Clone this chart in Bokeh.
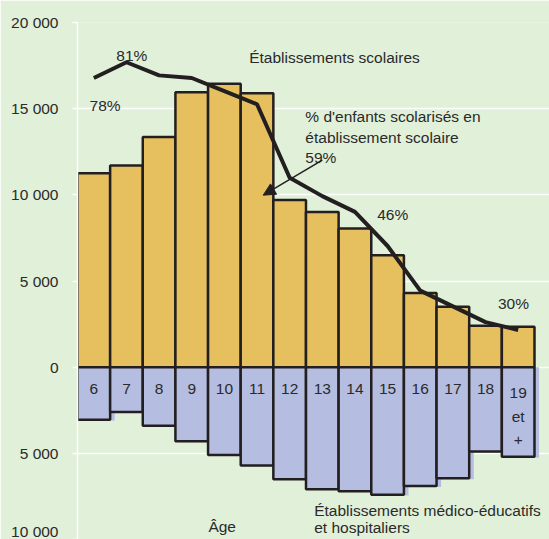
from bokeh.plotting import figure
from bokeh.models import (Range1d, FixedTicker, CustomJSTickFormatter, Label,
                          Arrow, NormalHead, ColumnDataSource)
from bokeh.transform import dodge
from bokeh.core.properties import value
from bokeh.embed import file_html
from bokeh.resources import INLINE

# ---- data ----
ages = [6, 7, 8, 9, 10, 11, 12, 13, 14, 15, 16, 17, 18, 19]
age_labels = ["6", "7", "8", "9", "10", "11", "12", "13", "14", "15", "16", "17", "18", "19\net\n+"]
scolaires = [11250, 11700, 13350, 15950, 16450, 15900, 9700, 9000, 8050, 6500, 4300, 3500, 2400, 2350]
medico = [3050, 2600, 3400, 4300, 5100, 5700, 6500, 7080, 7200, 7400, 6900, 6450, 4900, 5200]
pct_scolarises = [78, 81, 78.5, 78, 75.5, 73, 59, 55.5, 52.5, 46, 37.5, 34.5, 31.5, 30]
y_ticks = [-10000, -5000, 0, 5000, 10000, 15000, 20000]

FONT = "Liberation Sans"
FS = "15.5px"
BG = "#e1f0d9"
GOLD = "#e6c05f"
LAV = "#b5bde0"
INK = "#231f20"
TXT = "#2a2a2a"

src = ColumnDataSource(dict(
    age=ages,
    left=[a - 0.5 for a in ages],
    right=[a + 0.5 for a in ages],
    top=scolaires,
    neg=[-v for v in medico],
    zero=[0] * len(ages),
))

p = figure(width=549, height=539,
           x_range=Range1d(5.5, 19.96), y_range=Range1d(-10000, 20000),
           output_backend="svg", toolbar_location=None,
           min_border_left=77, min_border_top=22, min_border_right=0, min_border_bottom=0)
p.extra_y_ranges = {"pct": Range1d(-9.9, 88.57)}
p.background_fill_color = BG
p.border_fill_color = BG
p.outline_line_color = None

p.xaxis.visible = False
p.xgrid.visible = False
p.ygrid.ticker = FixedTicker(ticks=y_ticks)
p.ygrid.grid_line_color = "white"
p.ygrid.grid_line_width = 1.5

ax = p.yaxis[0]
ax.ticker = FixedTicker(ticks=y_ticks)
ax.formatter = CustomJSTickFormatter(code="""
var s = Math.abs(tick).toFixed(0);
return s.replace(/\\B(?=(\\d{3})+(?!\\d))/g, ' ');
""")
ax.axis_line_color = "white"
ax.axis_line_width = 1.5
ax.major_tick_line_color = "white"
ax.major_tick_line_width = 1.5
ax.major_tick_out = 5
ax.major_tick_in = 0
ax.minor_tick_line_color = None
ax.major_label_standoff = 14
ax.major_label_text_font = FONT
ax.major_label_text_font_size = FS
ax.major_label_text_color = TXT

# gold bars (school establishments)
p.quad(left="left", right="right", bottom="zero", top="top", source=src,
       fill_color=GOLD, line_color=INK, line_width=2.5)

# lavender bars with slight offset shadow
p.quad(left=dodge("left", 0.14), right=dodge("right", 0.14), bottom=dodge("neg", -50), top="zero",
       source=src, fill_color=LAV, line_color=None)
p.quad(left="left", right="right", bottom="neg", top="zero", source=src,
       fill_color=LAV, line_color=INK, line_width=2.5)

# age labels inside lavender bars
lab_src = ColumnDataSource(dict(age=ages, lab=age_labels))
p.text(x="age", y=-960, text="lab", source=lab_src,
       text_font=value(FONT), text_font_size=FS, text_color=TXT,
       text_align="center", text_baseline="top", text_line_height=1.4)

# percentage line
p.line(x=ages, y=pct_scolarises, y_range_name="pct", line_color=INK, line_width=4)

def lab(x, y, t):
    p.add_layout(Label(x=x, y=y, text=t, text_font=FONT, text_font_size=FS,
                       text_color=TXT, text_align="left", text_baseline="alphabetic"))

lab(10.76, 17989, "Établissements scolaires")
lab(12.48, 14566, "% d'enfants scolarisés en")
lab(12.48, 13347, "établissement scolaire")
lab(12.48, 12186, "59%")
lab(6.69, 18105, "81%")
lab(5.87, 15204, "78%")
lab(14.68, 8879, "46%")
lab(18.38, 3714, "30%")
lab(9.51, -9227, "Âge")
lab(12.75, -8298, "Établissements médico-éducatifs")
lab(12.75, -9285, "et hospitaliers")

p.add_layout(Arrow(end=NormalHead(size=12, fill_color=INK, line_color=INK),
                   x_start=13.0, y_start=12012, x_end=11.19, y_end=9981,
                   line_color=INK, line_width=1.5))

open("out.html", "w").write(file_html(p, INLINE))
